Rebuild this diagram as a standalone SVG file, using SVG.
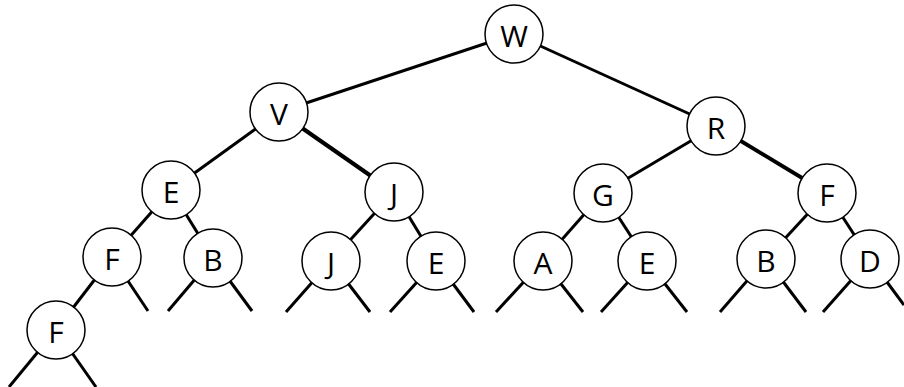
<svg xmlns="http://www.w3.org/2000/svg" width="904" height="387" viewBox="0 0 904 387">
<style>
.e{stroke:#000;stroke-width:3;stroke-linecap:butt;fill:none}
.t{stroke-width:4}
circle{fill:#fff;stroke:#000;stroke-width:1.5}
text{font-family:"Open Sans","DejaVu Sans",sans-serif;font-size:30px;text-anchor:middle;dominant-baseline:central;fill:#000}
</style>
<rect width="904" height="387" fill="#fff"/>
<g id="edges">
<line class="e" x1="514" y1="34" x2="279" y2="112"/>
<line class="e" x1="514" y1="34" x2="716" y2="126"/>
<line class="e" x1="279" y1="112" x2="171" y2="190"/>
<line class="e t" x1="279" y1="112" x2="394" y2="192"/>
<line class="e" x1="716" y1="126" x2="603" y2="193"/>
<line class="e t" x1="716" y1="126" x2="827" y2="193"/>
<line class="e" x1="171" y1="190" x2="112" y2="257"/>
<line class="e" x1="171" y1="190" x2="213" y2="258"/>
<line class="e" x1="394" y1="192" x2="331" y2="261"/>
<line class="e" x1="394" y1="192" x2="436" y2="261"/>
<line class="e" x1="603" y1="193" x2="543" y2="261"/>
<line class="e" x1="603" y1="193" x2="647" y2="261"/>
<line class="e" x1="827" y1="193" x2="766" y2="259"/>
<line class="e" x1="827" y1="193" x2="870" y2="259"/>
<line class="e" x1="112" y1="257" x2="56" y2="330"/>
<line class="e" x1="112" y1="257" x2="148" y2="311"/>
<line class="e" x1="213" y1="258" x2="168" y2="311"/>
<line class="e" x1="213" y1="258" x2="252" y2="311"/>
<line class="e" x1="331" y1="261" x2="286" y2="312"/>
<line class="e" x1="331" y1="261" x2="370" y2="312"/>
<line class="e" x1="436" y1="261" x2="390" y2="312"/>
<line class="e" x1="436" y1="261" x2="474" y2="312"/>
<line class="e" x1="543" y1="261" x2="496" y2="312"/>
<line class="e" x1="543" y1="261" x2="583" y2="312"/>
<line class="e" x1="647" y1="261" x2="601" y2="312"/>
<line class="e" x1="647" y1="261" x2="687" y2="312"/>
<line class="e" x1="766" y1="259" x2="720" y2="312"/>
<line class="e" x1="766" y1="259" x2="806" y2="312"/>
<line class="e" x1="870" y1="259" x2="823" y2="312"/>
<line class="e" x1="870" y1="259" x2="904" y2="305"/>
<line class="e" x1="56" y1="330" x2="9" y2="387"/>
<line class="e" x1="56" y1="330" x2="96" y2="387"/>
</g>
<g id="n_W"><circle cx="514" cy="34" r="29"/><text x="514" y="35">W</text></g>
<g id="n_V"><circle cx="279" cy="112" r="29"/><text x="279" y="113">V</text></g>
<g id="n_R"><circle cx="716" cy="126" r="29"/><text x="716" y="127">R</text></g>
<g id="n_E1"><circle cx="171" cy="190" r="29"/><text x="171" y="191">E</text></g>
<g id="n_J1"><circle cx="394" cy="192" r="29"/><text x="394" y="193">J</text></g>
<g id="n_G"><circle cx="603" cy="193" r="29"/><text x="603" y="194">G</text></g>
<g id="n_F1"><circle cx="827" cy="193" r="29"/><text x="827" y="194">F</text></g>
<g id="n_F2"><circle cx="112" cy="257" r="29"/><text x="112" y="258">F</text></g>
<g id="n_B1"><circle cx="213" cy="258" r="29"/><text x="213" y="259">B</text></g>
<g id="n_J2"><circle cx="331" cy="261" r="29"/><text x="331" y="262">J</text></g>
<g id="n_E2"><circle cx="436" cy="261" r="29"/><text x="436" y="262">E</text></g>
<g id="n_A"><circle cx="543" cy="261" r="29"/><text x="543" y="262">A</text></g>
<g id="n_E3"><circle cx="647" cy="261" r="29"/><text x="647" y="262">E</text></g>
<g id="n_B2"><circle cx="766" cy="259" r="29"/><text x="766" y="260">B</text></g>
<g id="n_D"><circle cx="870" cy="259" r="29"/><text x="870" y="260">D</text></g>
<g id="n_F3"><circle cx="56" cy="330" r="29"/><text x="56" y="331">F</text></g>
</svg>
